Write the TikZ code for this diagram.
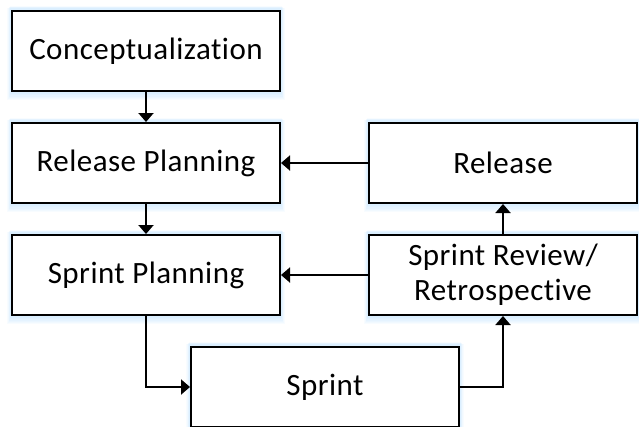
\documentclass[tikz,border=0pt]{standalone}
\usepackage{fontspec}
\setmainfont[Ligatures=NoCommon,LetterSpace=1.5]{Carlito}
\usetikzlibrary{arrows.meta,backgrounds}

\tikzset{
  stage/.style={draw=black, line width=2pt, fill=white, minimum width=268pt,
    minimum height=80pt, inner sep=0pt, align=center,
    font=\fontsize{31}{35}\selectfont},
  flow/.style={draw=black, line width=2pt,
    -{Triangle[width=15pt,length=9pt]}},
  glow/.style={fill=blue!45!cyan!40, opacity=0.07, draw=none}
}

% soft shadow beneath a box
\newcommand{\boxglow}[1]{%
  \foreach \s in {1,...,6}{%
    \fill[glow] ([xshift=-\s*0.6pt, yshift=-\s*1.2pt-1pt]#1.south west)
      rectangle ([xshift=\s*0.6pt, yshift=-\s*0.3pt+4pt]#1.north east);
  }%
}

\begin{document}
\begin{tikzpicture}[x=1pt,y=-1pt]
  \useasboundingbox (0,0) rectangle (639,426);
  \clip (0,0) rectangle (639,426);

  \node[stage] (concept) at (146,51)  {Conceptualization};
  \node[stage] (relplan) at (146,163) {Release Planning};
  \node[stage] (sprplan) at (146,275) {Sprint Planning};
  \node[stage] (release) at (503,163) {Release};
  \node[stage] (review)  at (503,275) {Sprint Review/\\Retrospective};
  \node[stage] (sprint)  at (325,387) {Sprint};

  \begin{scope}[on background layer]
    \foreach \n in {concept,relplan,sprplan,release,review,sprint}{\boxglow{\n}}
  \end{scope}

  \draw[flow] (concept) -- (relplan);
  \draw[flow] (relplan) -- (sprplan);
  \draw[flow] (sprplan.south) |- (sprint.west);
  \draw[flow] (sprint.east) -| (review.south);
  \draw[flow] (review) -- (release);
  \draw[flow] (release) -- (relplan);
  \draw[flow] (review) -- (sprplan);
\end{tikzpicture}
\end{document}
